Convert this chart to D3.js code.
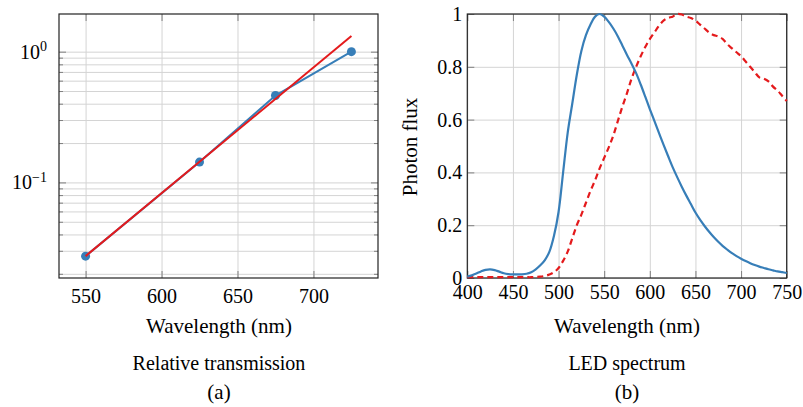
<!DOCTYPE html>
<html>
<head>
<meta charset="utf-8">
<script src="https://cdn.jsdelivr.net/npm/d3@7"></script>
<style>
  svg text, svg tspan { font-family: 'Liberation Serif', 'Times New Roman', serif !important; }
</style>
</head>
<body style="margin:0">
<svg id="fig" width="803" height="407" font-family="Liberation Serif"></svg>
<script>
// (a) relative transmission
const transWl = [550, 625, 675, 725];
const transVal = [0.0273, 0.143, 0.462, 1.0];
const fitWl = [550, 725];
const fitVal = [0.0273, 1.317];
const transXTicks = [550, 600, 650, 700];
const transYTicks = [0.1, 1];

// (b) LED spectrum, sampled every 5 nm from 400 to 750
const specWl = d3.range(400, 751, 5);
const blueFlux = [
  0.005, 0.01, 0.017, 0.025, 0.031, 0.033, 0.03, 0.024, 0.018, 0.015,
  0.014, 0.014, 0.014, 0.016, 0.022, 0.033, 0.048, 0.068, 0.1, 0.16,
  0.25, 0.4, 0.55, 0.66, 0.77, 0.86, 0.92, 0.96, 0.99, 1.0,
  0.99, 0.97, 0.945, 0.915, 0.88, 0.845, 0.812, 0.776, 0.733, 0.687,
  0.64, 0.595, 0.55, 0.505, 0.462, 0.42, 0.382, 0.346, 0.312, 0.28,
  0.248, 0.221, 0.197, 0.175, 0.155, 0.137, 0.121, 0.107, 0.094, 0.083,
  0.073, 0.064, 0.056, 0.049, 0.043, 0.038, 0.033, 0.029, 0.025, 0.022,
  0.019
];
const redFlux = [
  0.003, 0.003, 0.003, 0.003, 0.003, 0.003, 0.003, 0.003, 0.003, 0.003,
  0.003, 0.003, 0.003, 0.003, 0.003, 0.004, 0.005, 0.008, 0.013, 0.022,
  0.038, 0.065, 0.1, 0.15, 0.2, 0.24, 0.285, 0.33, 0.37, 0.415,
  0.455, 0.495, 0.54, 0.595, 0.65, 0.7, 0.755, 0.8, 0.84, 0.875,
  0.905, 0.93, 0.955, 0.975, 0.985, 0.99, 1.0, 0.998, 0.99, 0.985,
  0.975, 0.96, 0.945, 0.93, 0.92, 0.915, 0.905, 0.885, 0.87, 0.855,
  0.84, 0.82, 0.8, 0.78, 0.76, 0.755, 0.745, 0.725, 0.71, 0.69,
  0.67
];
const specXTicks = [400, 450, 500, 550, 600, 650, 700, 750];
const specYTicks = [0, 0.2, 0.4, 0.6, 0.8, 1];

const blue = '#377eb8';
const red = '#e41a1c';
const gridCol = '#d4d4d4';
const tickCol = '#808080';
const serif = 'Liberation Serif';

const svg = d3.select('#fig');
svg.append('rect').attr('width', 803).attr('height', 407).attr('fill', '#fff');

const plotTop = 14, plotBottom = 278;

// ---------- panel (a) ----------
const xa = d3.scaleLinear().domain([532.5, 742.5]).range([59, 378]);
const ya = d3.scaleLog().domain([Math.pow(10, -1.731), Math.pow(10, 0.288)]).range([plotBottom, plotTop]);

const minorA = [];
[0.01, 0.1, 1].forEach((dec) => {
  d3.range(1, 10).forEach((m) => {
    const v = dec * m;
    if (v >= ya.domain()[0] && v <= ya.domain()[1]) minorA.push(v);
  });
});

const pa = svg.append('g');

// grid
pa.append('g')
  .attr('transform', `translate(0,${plotBottom})`)
  .call(d3.axisBottom(xa).tickValues(transXTicks).tickSize(-(plotBottom - plotTop)).tickFormat(''))
  .call((g) => g.select('.domain').remove())
  .call((g) => g.selectAll('line').attr('stroke', gridCol));
pa.append('g')
  .attr('transform', `translate(${xa.range()[0]},0)`)
  .call(d3.axisLeft(ya).tickValues(minorA).tickSize(-(xa.range()[1] - xa.range()[0])).tickFormat(''))
  .call((g) => g.select('.domain').remove())
  .call((g) => g.selectAll('line').attr('stroke', gridCol));

// ticks, all four sides, pointing inward
const tickA = pa.append('g');
tickA.append('g').attr('transform', `translate(0,${plotBottom})`)
  .call(d3.axisBottom(xa).tickValues(transXTicks).tickSizeInner(-7).tickSizeOuter(0).tickPadding(11).tickFormat(d3.format('d')));
tickA.append('g').attr('transform', `translate(0,${plotTop})`)
  .call(d3.axisTop(xa).tickValues(transXTicks).tickSizeInner(-7).tickSizeOuter(0).tickFormat(''));
tickA.append('g').attr('transform', `translate(${xa.range()[0]},0)`)
  .call(d3.axisLeft(ya).tickValues(minorA.filter((v) => !transYTicks.includes(v))).tickSizeInner(-4).tickSizeOuter(0).tickFormat(''));
tickA.append('g').attr('transform', `translate(${xa.range()[1]},0)`)
  .call(d3.axisRight(ya).tickValues(minorA.filter((v) => !transYTicks.includes(v))).tickSizeInner(-4).tickSizeOuter(0).tickFormat(''));
tickA.append('g').attr('transform', `translate(${xa.range()[1]},0)`)
  .call(d3.axisRight(ya).tickValues(transYTicks).tickSizeInner(-7).tickSizeOuter(0).tickFormat(''));
const yLabA = tickA.append('g').attr('transform', `translate(${xa.range()[0]},0)`)
  .call(d3.axisLeft(ya).tickValues(transYTicks).tickSizeInner(-7).tickSizeOuter(0).tickPadding(12).tickFormat(''));
yLabA.selectAll('.tick text').each(function (d) {
  const t = d3.select(this).attr('dy', '0.32em');
  t.append('tspan').text('10');
  t.append('tspan').attr('dy', '-0.55em').attr('font-size', 14)
    .text(String(Math.round(Math.log10(d))).replace('-', '\u2212'));
});
tickA.selectAll('g').attr('font-family', serif);
tickA.selectAll('.domain').remove();
tickA.selectAll('line').attr('stroke', tickCol);
tickA.selectAll('text').attr('fill', '#000');

pa.append('rect')
  .attr('x', xa.range()[0]).attr('y', plotTop)
  .attr('width', xa.range()[1] - xa.range()[0]).attr('height', plotBottom - plotTop)
  .attr('fill', 'none').attr('stroke', '#222').attr('stroke-width', 1.2);

const lineA = d3.line().x((d) => xa(d[0])).y((d) => ya(d[1]));
pa.append('path')
  .datum(d3.zip(transWl, transVal))
  .attr('d', lineA).attr('fill', 'none').attr('stroke', blue).attr('stroke-width', 2);
pa.selectAll('circle')
  .data(d3.zip(transWl, transVal))
  .join('circle')
  .attr('cx', (d) => xa(d[0])).attr('cy', (d) => ya(d[1])).attr('r', 4.5)
  .attr('fill', blue);
pa.append('path')
  .datum(d3.zip(fitWl, fitVal))
  .attr('d', lineA).attr('fill', 'none').attr('stroke', red).attr('stroke-width', 2);

pa.append('text').attr('x', 219).attr('y', 333).attr('text-anchor', 'middle')
  .attr('font-size', 21).text('Wavelength (nm)');
pa.append('text').attr('x', 219).attr('y', 370).attr('text-anchor', 'middle')
  .attr('font-size', 20).text('Relative transmission');
pa.append('text').attr('x', 219).attr('y', 399).attr('text-anchor', 'middle')
  .attr('font-size', 21).text('(a)');

// ---------- panel (b) ----------
const xb = d3.scaleLinear().domain([400, 750]).range([467.3, 786.7]);
const yb = d3.scaleLinear().domain([0, 1]).range([plotBottom, plotTop]);

const pb = svg.append('g');
pb.append('g')
  .attr('transform', `translate(0,${plotBottom})`)
  .call(d3.axisBottom(xb).tickValues(specXTicks).tickSize(-(plotBottom - plotTop)).tickFormat(''))
  .call((g) => g.select('.domain').remove())
  .call((g) => g.selectAll('line').attr('stroke', gridCol));
pb.append('g')
  .attr('transform', `translate(${xb.range()[0]},0)`)
  .call(d3.axisLeft(yb).tickValues(specYTicks).tickSize(-(xb.range()[1] - xb.range()[0])).tickFormat(''))
  .call((g) => g.select('.domain').remove())
  .call((g) => g.selectAll('line').attr('stroke', gridCol));

const tickB = pb.append('g');
tickB.append('g').attr('transform', `translate(0,${plotBottom})`)
  .call(d3.axisBottom(xb).tickValues(specXTicks).tickSizeInner(-7).tickSizeOuter(0).tickPadding(7).tickFormat(d3.format('d')));
tickB.append('g').attr('transform', `translate(0,${plotTop})`)
  .call(d3.axisTop(xb).tickValues(specXTicks).tickSizeInner(-7).tickSizeOuter(0).tickFormat(''));
tickB.append('g').attr('transform', `translate(${xb.range()[0]},0)`)
  .call(d3.axisLeft(yb).tickValues(specYTicks).tickSizeInner(-7).tickSizeOuter(0).tickPadding(5).tickFormat((d) => (d === 0 || d === 1 ? String(d) : d.toFixed(1))));
tickB.append('g').attr('transform', `translate(${xb.range()[1]},0)`)
  .call(d3.axisRight(yb).tickValues(specYTicks).tickSizeInner(-7).tickSizeOuter(0).tickFormat(''));
tickB.selectAll('g').attr('font-family', serif);
tickB.selectAll('.domain').remove();
tickB.selectAll('line').attr('stroke', tickCol);
tickB.selectAll('text').attr('fill', '#000');

pb.append('rect')
  .attr('x', xb.range()[0]).attr('y', plotTop)
  .attr('width', xb.range()[1] - xb.range()[0]).attr('height', plotBottom - plotTop)
  .attr('fill', 'none').attr('stroke', '#222').attr('stroke-width', 1.2);

const lineB = d3.line().x((d) => xb(d[0])).y((d) => yb(d[1])).curve(d3.curveCatmullRom);
pb.append('path')
  .datum(d3.zip(specWl, redFlux))
  .attr('d', lineB).attr('fill', 'none').attr('stroke', red).attr('stroke-width', 2.2)
  .attr('stroke-dasharray', '6,4');
pb.append('path')
  .datum(d3.zip(specWl, blueFlux))
  .attr('d', lineB).attr('fill', 'none').attr('stroke', blue).attr('stroke-width', 2.2);

pb.append('text')
  .attr('transform', 'translate(417,147) rotate(-90)')
  .attr('text-anchor', 'middle')
  .attr('font-size', 21).text('Photon flux');
pb.append('text').attr('x', 627).attr('y', 333).attr('text-anchor', 'middle')
  .attr('font-size', 21).text('Wavelength (nm)');
pb.append('text').attr('x', 627).attr('y', 370).attr('text-anchor', 'middle')
  .attr('font-size', 20).text('LED spectrum');
pb.append('text').attr('x', 627).attr('y', 399).attr('text-anchor', 'middle')
  .attr('font-size', 21).text('(b)');

tickA.selectAll('text').attr('font-size', 20);
tickB.selectAll('text').attr('font-size', 20);
svg.selectAll('text').attr('font-family', serif);
</script>
</body>
</html>
